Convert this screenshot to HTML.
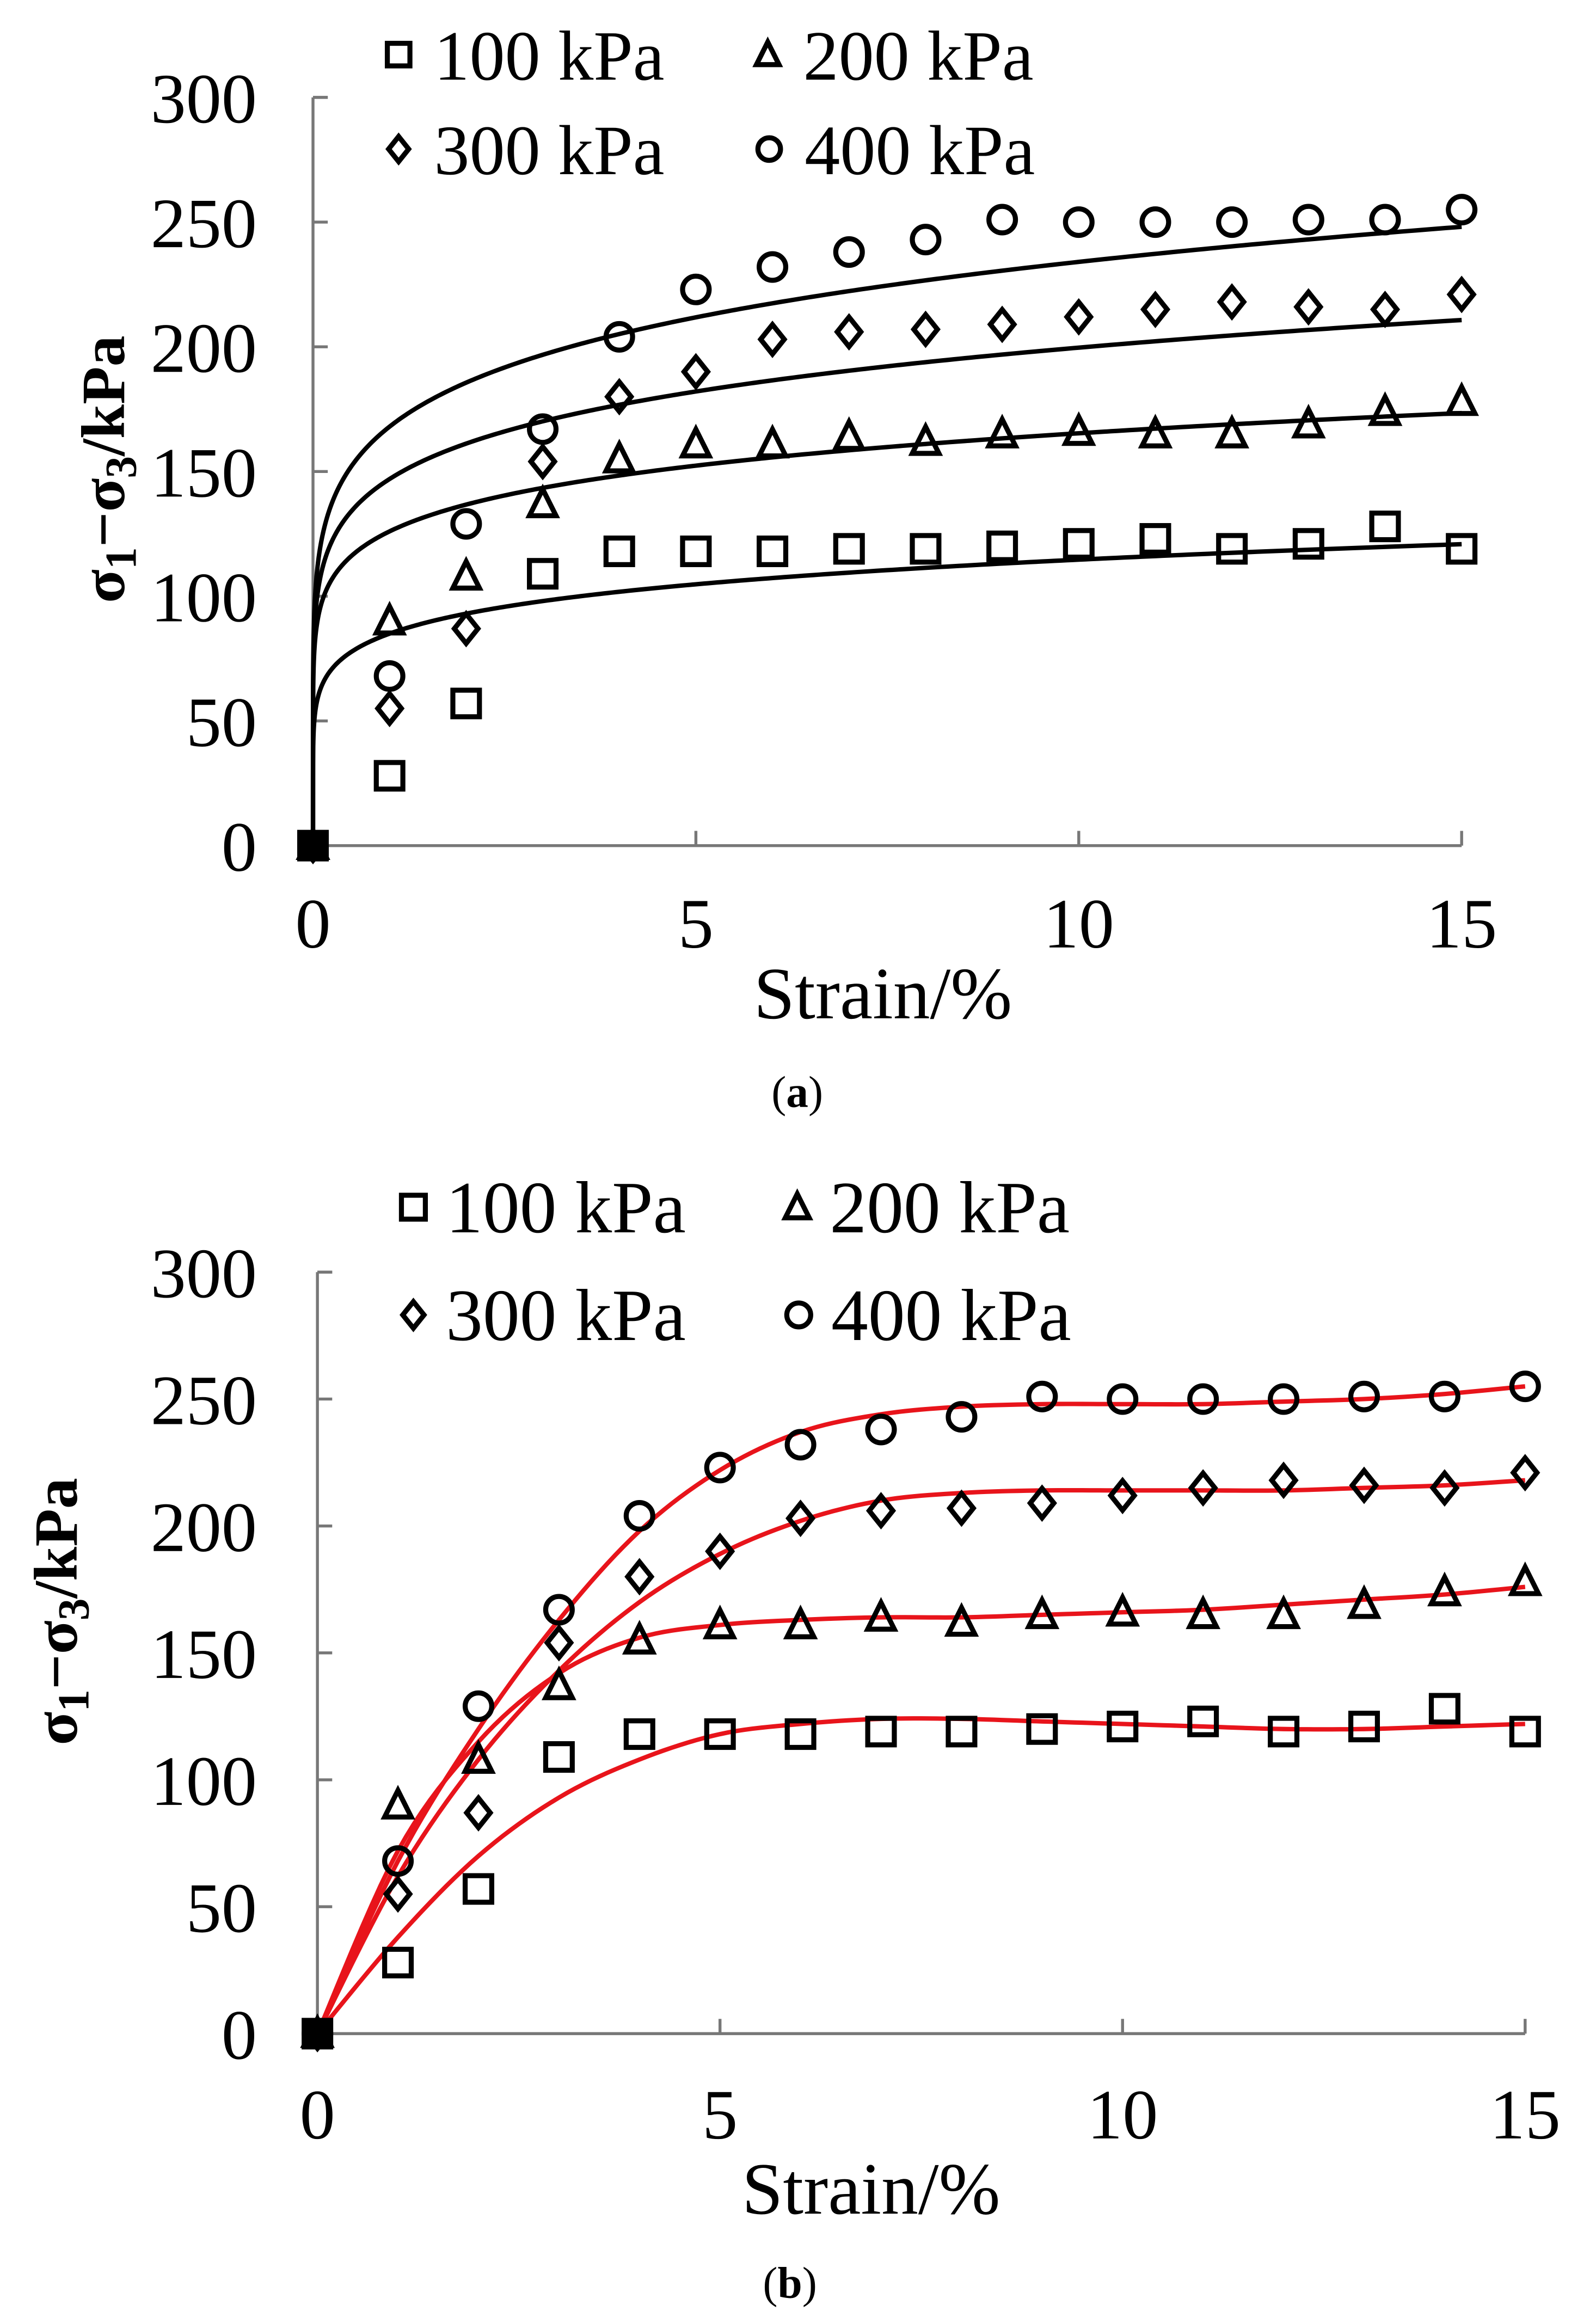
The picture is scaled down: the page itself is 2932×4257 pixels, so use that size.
<!DOCTYPE html>
<html><head><meta charset="utf-8"><style>
html,body{margin:0;padding:0;background:#fff;}
svg{display:block;}
text{font-family:"Liberation Serif",serif;fill:#000;}
</style></head><body>
<svg id="fig" width="2932" height="4257" viewBox="0 0 1081 1570" preserveAspectRatio="none" xmlns="http://www.w3.org/2000/svg">
<rect x="0" y="0" width="1081" height="1570" fill="#fff"/>
<g id="pa"></g>
<g id="pb"></g>
</svg>
<script>
const strains = [0,1,2,3,4,5,6,7,8,9,10,11,12,13,14,15];
const s100 = [0,28,57,109,118,118,118,119,119,120,121,123,119,121,128,119];
const s200 = [0,90,108,137,155,161,161,164,162,165,166,165,165,169,174,178];
const s300 = [0,55,87,154,180,190,203,206,207,209,212,215,218,216,215,221];
const s400 = [0,68,129,167,204,223,232,238,243,251,250,250,250,251,251,255];
const seriesLabels = ["100 kPa","200 kPa","300 kPa","400 kPa"];
const markers = ["square","triangle","diamond","circle"];
// panel (a) power-law fit y = a*x^b
const fitA = [85,126,147,168];
const fitB = [0.130,0.118,0.133,0.144];
// panel (b) fitted curve values at each strain
const fit100 = [0,38,70,93,108,118,122,124,124,123,122,121,120,120,121,122];
const fit200 = [0,72,115,142,156,161,163,164,164,165,166,167,169,171,173,176];
const fit300 = [0,62,108,143,170,189,202,210,213,214,214,214,214,215,216,218];
const fit400 = [0,68,120,163,198,222,237,244,247,248,248,248,249,250,252,255];
const yTicks = [0,50,100,150,200,250,300];
const xTicks = [0,5,10,15];

const NS="http://www.w3.org/2000/svg";
function mk(parent,tag,attrs){const e=document.createElementNS(NS,tag);for(const k in attrs)e.setAttribute(k,attrs[k]);parent.appendChild(e);return e;}

function marker(g,type,cx,cy,s){
  let e;
  if(type==="square"){e=mk(g,"rect",{x:cx-s*0.45,y:cy-s*0.45,width:s*0.9,height:s*0.9});}
  else if(type==="triangle"){e=mk(g,"polygon",{points:`${cx},${cy-s*0.5} ${cx-s*0.45},${cy+s*0.4} ${cx+s*0.45},${cy+s*0.4}`});}
  else if(type==="diamond"){e=mk(g,"polygon",{points:`${cx},${cy-s*0.5} ${cx+s*0.4},${cy} ${cx},${cy+s*0.5} ${cx-s*0.4},${cy}`});}
  else {e=mk(g,"circle",{cx:cx,cy:cy,r:s*0.45});}
  e.setAttribute("fill","none");e.setAttribute("stroke","#000");e.setAttribute("stroke-width","3.4");
  return e;
}

function panel(g,o){
  const X=v=>o.x0+(o.x1-o.x0)*v/15;
  const Y=v=>o.y0-(o.y0-o.y1)*v/300;
  const ax=mk(g,"path",{d:`M${X(0)},${Y(300)}H${X(0)+10}M${X(0)},${Y(300)}V${Y(0)}H${X(15)}`,fill:"none",stroke:"#777","stroke-width":2});
  
  
  yTicks.forEach(t=>{
    const l=mk(g,"line",{x1:X(0),x2:X(0)+10,y1:Y(t),y2:Y(t),stroke:"#777","stroke-width":2});
    
    
    const tx=mk(g,"text",{x:o.ylx,y:Y(t)+17,"text-anchor":"end","font-size":48});
    tx.textContent=t;
    
    
  });
  xTicks.forEach(t=>{
    const l=mk(g,"line",{x1:X(t),x2:X(t),y1:Y(0),y2:Y(0)-10,stroke:"#777","stroke-width":2});
    
    
    const tx=mk(g,"text",{x:X(t),y:o.xly,"text-anchor":"middle","font-size":48});
    tx.textContent=t;
    
    
  });
  const xt=mk(g,"text",{x:o.xtx,y:o.xty,"text-anchor":"middle","font-size":50});
  xt.textContent="Strain/%";
  
  
  const yt=mk(g,"text",{transform:`translate(${o.ytx},${o.yty}) rotate(-90)`,"text-anchor":"middle","font-size":42,"font-weight":"bold"});
  yt.innerHTML='σ<tspan font-size="30" dy="8">1</tspan><tspan dy="-8">−σ</tspan><tspan font-size="30" dy="8">3</tspan><tspan dy="-8">/kPa</tspan>';
  
  
  const cap=mk(g,"text",{x:o.capx,y:o.capy,"text-anchor":"middle","font-size":30});
  cap.innerHTML=o.cap;
  
  
  o.curves.forEach((pts,i)=>{
    const p=mk(g,"path",{d:pts.map((q,j)=>(j?"L":"M")+X(q[0]).toFixed(2)+","+Y(q[1]).toFixed(2)).join(""),fill:"none",stroke:o.color,"stroke-width":3});
    
    
  });
  [s100,s200,s300,s400].forEach((arr,i)=>{
    const sg=mk(g,"g",{});
    
    
    arr.forEach((v,j)=>{
      const m=marker(sg,markers[i],X(strains[j]),Y(v),o.ms);
      
      
    });
  });
  const o0=mk(g,"rect",{x:X(0)-9,y:Y(0)-9,width:18,height:18,fill:"#000"});
  
  
  o.leg.forEach((L,i)=>{
    const lg=mk(g,"g",{});
    
    
    marker(lg,markers[i],L[0],L[1],o.lms);
    const t=mk(lg,"text",{x:L[0]+o.ltx,y:L[1]+17,"font-size":o.lfs});
    t.textContent=seriesLabels[i];
  });
}

function catmull(xs,ys){
  const pts=[];
  for(let i=0;i<xs.length-1;i++){
    const p0=[xs[Math.max(i-1,0)],ys[Math.max(i-1,0)]],p1=[xs[i],ys[i]],p2=[xs[i+1],ys[i+1]],p3=[xs[Math.min(i+2,xs.length-1)],ys[Math.min(i+2,xs.length-1)]];
    for(let k=0;k<10;k++){const t=k/10,t2=t*t,t3=t2*t;
      const f=(a,b,c,d)=>0.5*(2*b+(-a+c)*t+(2*a-5*b+4*c-d)*t2+(-a+3*b-3*c+d)*t3);
      pts.push([f(p0[0],p1[0],p2[0],p3[0]),f(p0[1],p1[1],p2[1],p3[1])]);}
  }
  pts.push([xs[xs.length-1],ys[ys.length-1]]);
  return pts;
}

const curvesA=fitA.map((a,i)=>{const pts=[[0,0]];for(let k=1;k<=300;k++){const x=15*Math.pow(k/300,2);pts.push([x,a*Math.pow(x,fitB[i])]);}return pts;});
const curvesB=[fit100,fit200,fit300,fit400].map(f=>catmull(strains,f));

panel(document.getElementById("pa"),{x0:212,x1:990,y0:573,y1:66,ylx:174,xly:642,xtx:598,xty:690,ytx:84,yty:318,capx:540,capy:750,cap:'(<tspan font-weight="bold">a</tspan>)',color:"#000",curves:curvesA,ms:20,lms:17,ltx:24,lfs:48,
  leg:[[270,37],[520,37],[270,101],[521,101]]});
panel(document.getElementById("pb"),{x0:215,x1:1033,y0:1378,y1:862,ylx:174,xly:1449,xtx:590,xty:1500,ytx:52,yty:1092,capx:535,capy:1557,cap:'(<tspan font-weight="bold">b</tspan>)',color:"#e8141b",curves:curvesB,ms:20,lms:18,ltx:22,lfs:50,
  leg:[[280,818],[540,818],[280,891],[541,891]]});
</script>
</body></html>
